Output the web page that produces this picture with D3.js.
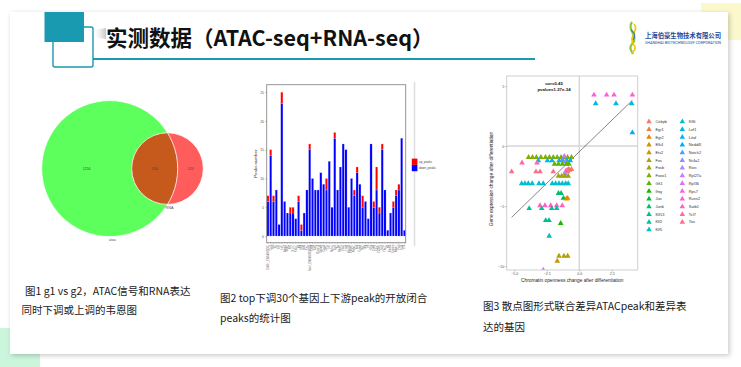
<!DOCTYPE html>
<html><head><meta charset="utf-8">
<script src="https://cdn.jsdelivr.net/npm/d3@7"></script>
<style>html,body{margin:0;padding:0;background:#fff;overflow:hidden}</style>
</head><body><svg id="c" width="741" height="367"></svg>
<script>
// ---------------- DATA ----------------
const titleText = "实测数据（ATAC-seq+RNA-seq）";
const logoCN = "上海伯豪生物技术有限公司";
const logoEN = "SHANGHAI BIOTECHNOLOGY CORPORATION";
const captions = [
  ["图1 g1 vs g2，ATAC信号和RNA表达", "同时下调或上调的韦恩图"],
  ["图2 top下调30个基因上下游peak的开放闭合", "peaks的统计图"],
  ["图3 散点图形式联合差异ATACpeak和差异表", "达的基因"]
];
// Venn
const vennSets = ["atac", "RNA"];
const vennCounts = [1254, 316, 120]; // atac only, both, RNA only
// Bar chart
const barGenes = ["Cd8b1_ENSMUSG01","Ccr7","Sell","Il7r","Tcf7","Lef1","Bach2","Satb1","Klf2","S1pr1","Foxp1","Id3","Myb","Bcl6","Ets1","Sox4_ENSMUSG0025","Cd28","Ikzf2","Dusp10","Slamf6","Cxcr5","Zeb1","Irf4","Nr4a1","Egr2","Tox","Pdcd1","Ctla4","Lag3","Havcr2","Entpd1","Prdm1","Batf","Gzmb","Prf1","Ifng","Tnf","Il2ra","Cd69","Klrg1","Cx3cr1","Zeb2","Tbx21","Id2","Runx3","Eomes","Nfatc1","Fasl","Ccl5","Il10"];
const downPeaks = [6,14,6,8,2,23,6,4,4,4,3,6,1,4,8,15,10,8,8,11,9,8,13,5,17,8,12,16,15,5,10,7,11,9,5,6,3,16,5,8,4,15,8,1,4,5,7,8,17,1];
const upPeaks   = [1,1,1,0,0,2,0,0,1,1,0,1,1,0,0,1,0,0,0,0,0,2,0,0,1,0,0,0,0,0,0,1,1,0,2,0,0,0,1,4,1,1,0,0,0,1,1,1,0,0];
const barYTicks = [0,5,10,15,20,25];
const barLegend = ["up_peaks", "down_peaks"];
// Scatter
const scatterGenes = ["Cebpb","Egr1","Egr2","Elk4","Ets2","Fos","Fosb","Foxo1","Gfi1","Ifng","Jun","Junb","Klf13","Klf2","Klf5","Klf6","Lef1","Litaf","Nedd4l","Notch2","Nr4a2","Rorc","Rpl27a","Rpl36","Rps7","Runx2","Satb1","Tcf7","Tox"];
const rowGene = ["Runx2","Lef1","Nedd4l","Foxo1","Rpl36","Litaf","Notch2","Nr4a2","Gfi1","Tcf7","Cebpb","Egr1","Rps7","Tox","Rorc","Fosb","Klf6","Junb","Jun","Elk4","Egr2","Satb1","Klf2","Klf13","Ifng","Klf5","Fos","Ets2","Rpl27a"];
const rowY = [4.25,3.53,1.11,-0.95,-0.85,-1.22,-1.15,-1.3,-1.5,-1.4,-1.95,-2.0,-2.05,-2.14,-2.3,-2.5,-3.13,-3.94,-4.35,-4.4,-4.35,-4.97,-5.2,-6.2,-6.44,-7.5,-9.17,-9.58,-10.33];
const rowXs = [
  [1.13,2.1,2.67,4.08],
  [1.26,2.82,4.03],
  [4.08],
  [-3.9,-3.6,-3.3,-2.95,-2.6,-2.3,-2.0,-1.7,-1.4,-1.15,-0.9,-0.6],
  [-1.15],
  [-3.15,-2.45,-2.1,-1.55,-1.25,-0.95,-0.7],
  [-1.3],
  [-1.05],
  [-1.9,-1.6,-1.3,-1.0,-0.8],
  [-4.4,-3.25],
  [-0.85,-0.6],
  [-0.75],
  [-1.0],
  [-5.2,-3.33,-3.02,-2.0,-1.05,-0.89],
  [-1.1],
  [-1.6,-1.35,-1.1,-0.85],
  [-4.43,-4.18,-3.92,-3.62,-3.1,-2.77,-2.08,-1.82,-1.56,-1.31,-1.05,-0.85],
  [-1.6,-1.4],
  [-1.22],
  [-1.0],
  [-0.9],
  [-3.02,-2.64,-2.2,-1.74,-1.31],
  [-3.85,-2.89,-2.12,-1.74],
  [-2.58,-2.33],
  [-1.43],
  [-2.31],
  [-1.56,-1.18,-0.89],
  [-1.69],
  [-2.77]
];
const fitLine = {slope: 1.05, intercept: -0.48};
const statText = ["cor=0.45", "pvalue=1.27e-34"];
const scXTicks = [-5, -2.5, 0, 2.5];
const scYTicks = [5, 0, -5, -10];
const scXLabel = "Chromatin openness change after differentiation";
const scYLabel = "Gene expression change after differentiation";

// ---------------- HELPERS ----------------
const TEAL = "#1a9ab0";
function hclLuv(h, c, l) {
  const hr = h * Math.PI / 180;
  const U = c * Math.cos(hr), V = c * Math.sin(hr);
  const Xn = 95.047, Yn = 100, Zn = 108.883;
  const Y = l > 7.999592 ? Yn * Math.pow((l + 16) / 116, 3) : Yn * l / 903.3;
  const t = Xn + 15 * Yn + 3 * Zn;
  const un = 4 * Xn / t, vn = 9 * Yn / t;
  const u = U / (13 * l) + un, v = V / (13 * l) + vn;
  const X = 9 * Y * u / (4 * v);
  const Z = Y * (12 - 3 * u - 20 * v) / (4 * v);
  const x = X / 100, y = Y / 100, z = Z / 100;
  const lin = [3.240479*x - 1.537150*y - 0.498535*z,
              -0.969256*x + 1.875992*y + 0.041556*z,
               0.055648*x - 0.204043*y + 1.057311*z];
  const g = lin.map(v => { v = v <= 0.0031308 ? 12.92 * v : 1.055 * Math.pow(v, 1/2.4) - 0.055; return Math.round(Math.max(0, Math.min(1, v)) * 255); });
  return d3.rgb(g[0], g[1], g[2]).formatHex();
}
const nG = scatterGenes.length;
const geneColor = d3.scaleOrdinal().domain(scatterGenes)
  .range(scatterGenes.map((g, i) => hclLuv(15 + 360 * i / nG, 100, 65)));

const svg = d3.select("#c");
const defs = svg.append("defs");
const f = defs.append("filter").attr("id", "sh").attr("x", -0.05).attr("y", -0.05).attr("width", 1.1).attr("height", 1.1);
f.append("feDropShadow").attr("dx", 1.5).attr("dy", 1.5).attr("stdDeviation", 2.5).attr("flood-color", "#000").attr("flood-opacity", 0.22);
const lg = defs.append("linearGradient").attr("id", "tsh").attr("x1", 0).attr("x2", 1).attr("y1", 0).attr("y2", 0);
lg.append("stop").attr("offset", 0).attr("stop-color", "#fff").attr("stop-opacity", 0);
lg.append("stop").attr("offset", 1).attr("stop-color", "#999").attr("stop-opacity", 0.55);

// ---------------- SLIDE ----------------
svg.append("rect").attr("x", 701).attr("y", 3).attr("width", 40).attr("height", 37).attr("fill", "#fbf9cc");
svg.append("rect").attr("x", 0).attr("y", 328).attr("width", 40).attr("height", 39).attr("fill", "#cbf6dc");
svg.append("rect").attr("x", 10).attr("y", 12).attr("width", 718).attr("height", 342).attr("fill", "#fff").attr("filter", "url(#sh)");

svg.append("rect").attr("x", 53).attr("y", 27).attr("width", 40).attr("height", 40).attr("rx", 2)
  .attr("fill", "#fff").attr("stroke", TEAL).attr("stroke-width", 1.4);
svg.append("rect").attr("x", 44.5).attr("y", 12).attr("width", 39.5).attr("height", 30).attr("fill", TEAL);
svg.append("path").attr("d", "M92,30 L106,28 L106,39 L94,37 Z").attr("fill", "url(#tsh)");
svg.append("line").attr("x1", 93).attr("x2", 535).attr("y1", 59).attr("y2", 59).attr("stroke", TEAL).attr("stroke-width", 2);
svg.append("text").attr("x", 106).attr("y", 46).text(titleText)
  .attr("font-family", "'Noto Sans CJK SC', sans-serif").attr("font-weight", 700).attr("font-size", 21.5).attr("fill", "#111");

// logo
const logo = svg.append("g");
logo.append("path").attr("d", "M632,22 C626,30 640,36 632,44 C628,48 632,52 633,54").attr("fill", "none").attr("stroke", "#8cc63f").attr("stroke-width", 2.2);
logo.append("path").attr("d", "M634,24 C640,30 627,37 634,45 C637,48 634,51 632,53").attr("fill", "none").attr("stroke", "#f2c400").attr("stroke-width", 1.6);
logo.append("path").attr("d", "M631,30 C635,33 636,36 633,40").attr("fill", "none").attr("stroke", "#2a7fc1").attr("stroke-width", 1.2);
logo.append("text").attr("x", 645).attr("y", 38).text(logoCN).attr("font-family", "'Noto Sans CJK SC', sans-serif")
  .attr("font-weight", 700).attr("font-size", 6.3).attr("fill", "#1f4796").attr("textLength", 76).attr("lengthAdjust", "spacingAndGlyphs");
logo.append("text").attr("x", 645).attr("y", 43.5).text(logoEN).attr("font-family", "Roboto, sans-serif")
  .attr("font-size", 3).attr("fill", "#1f4796").attr("textLength", 76).attr("lengthAdjust", "spacingAndGlyphs");

// captions
const capPos = [[[25, 294.5], [21.5, 313.5]], [[220, 301.5], [220, 322]], [[483, 310], [483, 330.5]]];
captions.forEach((lines, i) => lines.forEach((t, j) => {
  svg.append("text").attr("x", capPos[i][j][0]).attr("y", capPos[i][j][1]).text(t)
    .attr("font-family", "'Noto Sans CJK SC', sans-serif").attr("font-size", 10.5).attr("fill", "#1a1a1a");
}));

// ---------------- VENN ----------------
{
  const totals = [vennCounts[0] + vennCounts[1], vennCounts[1] + vennCounts[2]];
  const r = d3.scaleSqrt().domain([0, d3.max(totals)]).range([0, 68]);
  const cx1 = 109.7, cy = 168.6, dist = 57.8;
  const c = [{x: cx1, r: r(totals[0]), fill: "#5cff5c"}, {x: cx1 + dist, r: r(totals[1]), fill: "#ff5c5c"}];
  const g = svg.append("g");
  defs.append("clipPath").attr("id", "vclip").append("circle").attr("cx", c[0].x).attr("cy", cy).attr("r", c[0].r);
  g.selectAll("circle.f").data(c).join("circle").attr("cx", d => d.x).attr("cy", cy).attr("r", d => d.r).attr("fill", d => d.fill);
  g.append("circle").attr("cx", c[1].x).attr("cy", cy).attr("r", c[1].r).attr("fill", "#c55a1c").attr("clip-path", "url(#vclip)");
  g.selectAll("circle.s").data(c).join("circle").attr("cx", d => d.x).attr("cy", cy).attr("r", d => d.r)
    .attr("fill", "none").attr("stroke", "#fff").attr("stroke-width", 0.8);
  const lx = [(c[0].x - c[0].r + c[1].x - c[1].r) / 2, (c[1].x - c[1].r + c[0].x + c[0].r) / 2, (c[0].x + c[0].r + c[1].x + c[1].r) / 2];
  vennCounts.forEach((v, i) => g.append("text").attr("x", lx[i]).attr("y", cy + 1.2).attr("text-anchor", "middle")
    .text(v).attr("font-family", "Arial, sans-serif").attr("font-size", 3.5).attr("fill", "#444"));
  g.append("text").attr("x", c[0].x + 3).attr("y", cy + c[0].r + 4.5).attr("text-anchor", "middle").text(vennSets[0])
    .attr("font-family", "Arial, sans-serif").attr("font-size", 3.8).attr("fill", "#555");
  g.append("text").attr("x", c[1].x + 2).attr("y", cy + c[1].r + 4.2).attr("text-anchor", "middle").text(vennSets[1])
    .attr("font-family", "Arial, sans-serif").attr("font-size", 3.8).attr("fill", "#555");
}

// ---------------- BAR CHART ----------------
{
  const L = 266.7, R = 405.7, T = 84.7, B = 242.7;
  const x = d3.scaleBand().domain(barGenes).range([L, R]).paddingInner(0.22).paddingOuter(0.05);
  const y = d3.scaleLinear().domain([-1.16, 26.3]).range([B, T]);
  const g = svg.append("g");
  g.append("line").attr("x1", 414.5).attr("x2", 414.5).attr("y1", 82).attr("y2", 246).attr("stroke", "#ddd").attr("stroke-width", 1.5);
  g.append("rect").attr("x", L).attr("y", T).attr("width", R - L).attr("height", B - T).attr("fill", "#fff");
  const data = barGenes.map((k, i) => ({k, d: downPeaks[i], u: upPeaks[i]}));
  g.selectAll("rect.d").data(data).join("rect").attr("x", d => x(d.k)).attr("width", x.bandwidth())
    .attr("y", d => y(d.d)).attr("height", d => y(0) - y(d.d)).attr("fill", "#0000ff").attr("stroke", "#c9c9ff").attr("stroke-width", 0.25);
  g.selectAll("rect.u").data(data.filter(d => d.u > 0)).join("rect").attr("x", d => x(d.k)).attr("width", x.bandwidth())
    .attr("y", d => y(d.d + d.u)).attr("height", d => y(d.d) - y(d.d + d.u)).attr("fill", "#ff0000").attr("stroke", "#ffc9c9").attr("stroke-width", 0.25);
  g.append("rect").attr("x", L).attr("y", T).attr("width", R - L).attr("height", B - T).attr("fill", "none").attr("stroke", "#8a8a8a").attr("stroke-width", 0.9);
  const ya = g.append("g").attr("transform", `translate(${L},0)`).call(d3.axisLeft(y).tickValues(barYTicks).tickSize(1.5).tickPadding(1.2));
  ya.select(".domain").remove();
  ya.selectAll("line").attr("stroke", "#666").attr("stroke-width", 0.4);
  ya.selectAll("text").attr("font-size", 3.4).attr("fill", "#555").attr("font-family", "Arial, sans-serif");
  const xa = g.append("g").attr("transform", `translate(0,${B})`).call(d3.axisBottom(x).tickSize(1.2));
  xa.select(".domain").remove();
  xa.selectAll("line").attr("stroke", "#666").attr("stroke-width", 0.3);
  xa.selectAll("text").attr("font-size", 2.6).attr("fill", "#666").attr("font-family", "Arial, sans-serif")
    .attr("transform", "rotate(-90)").attr("text-anchor", "end").attr("x", -2).attr("y", 0).attr("dy", "0.35em");
  g.append("text").attr("transform", `translate(256.5,${(T + B) / 2}) rotate(-90)`).attr("text-anchor", "middle")
    .text("Peaks number").attr("font-size", 4.4).attr("fill", "#333").attr("font-family", "Arial, sans-serif");
  const legCol = ["#ff0000", "#0000ff"];
  barLegend.forEach((t, i) => {
    g.append("rect").attr("x", 411.8).attr("y", 158.6 + i * 6.3).attr("width", 5.6).attr("height", 6.3).attr("fill", legCol[i]);
    g.append("text").attr("x", 419).attr("y", 162.8 + i * 6.3).text(t).attr("font-size", 3).attr("fill", "#444").attr("font-family", "Arial, sans-serif");
  });
}

// ---------------- SCATTER ----------------
{
  const L = 506.7, R = 637.7, T = 76, B = 270;
  const x = d3.scaleLinear().domain([-5.58, 4.49]).range([L, R]);
  const y = d3.scaleLinear().domain([-10.33, 5.83]).range([B, T]);
  const g = svg.append("g");
  defs.append("clipPath").attr("id", "sclip").append("rect").attr("x", L).attr("y", T).attr("width", R - L).attr("height", B - T);
  g.append("line").attr("x1", x(0)).attr("x2", x(0)).attr("y1", T).attr("y2", B).attr("stroke", "#d6d6d6").attr("stroke-width", 1.4);
  g.append("line").attr("x1", L).attr("x2", R).attr("y1", y(0)).attr("y2", y(0)).attr("stroke", "#d6d6d6").attr("stroke-width", 1.4);
  const pts = [];
  rowGene.forEach((gn, i) => rowXs[i].forEach(v => pts.push({g: gn, x: v, y: rowY[i]})));
  const xe = d3.extent(pts, d => d.x);
  g.append("line").attr("x1", x(xe[0])).attr("x2", x(xe[1]))
    .attr("y1", y(fitLine.intercept + fitLine.slope * xe[0])).attr("y2", y(fitLine.intercept + fitLine.slope * xe[1]))
    .attr("stroke", "#333").attr("stroke-width", 0.6);
  const tri = d3.symbol().type(d3.symbolTriangle).size(14);
  g.append("g").attr("clip-path", "url(#sclip)").selectAll("path").data(pts).join("path")
    .attr("d", tri).attr("transform", d => `translate(${x(d.x)},${y(d.y)})`).attr("fill", d => geneColor(d.g));
  g.append("rect").attr("x", L).attr("y", T).attr("width", R - L).attr("height", B - T).attr("fill", "none").attr("stroke", "#cfcfcf").attr("stroke-width", 1);
  statText.forEach((t, i) => g.append("text").attr("x", 554).attr("y", 84.8 + i * 6).attr("text-anchor", "middle").text(t)
    .attr("font-size", 4.3).attr("font-weight", 700).attr("fill", "#111").attr("font-family", "Arial, sans-serif"));
  const xa = g.append("g").attr("transform", `translate(0,${B})`).call(d3.axisBottom(x).tickValues(scXTicks).tickFormat(d3.format(".1f")).tickSize(1.5).tickPadding(1));
  xa.select(".domain").remove();
  xa.selectAll("line").attr("stroke", "#666").attr("stroke-width", 0.4);
  xa.selectAll("text").attr("font-size", 3.6).attr("fill", "#555").attr("font-family", "Arial, sans-serif");
  const ya = g.append("g").attr("transform", `translate(${L},0)`).call(d3.axisLeft(y).tickValues(scYTicks).tickSize(1.5).tickPadding(1));
  ya.select(".domain").remove();
  ya.selectAll("line").attr("stroke", "#666").attr("stroke-width", 0.4);
  ya.selectAll("text").attr("font-size", 3.6).attr("fill", "#555").attr("font-family", "Arial, sans-serif");
  g.append("text").attr("x", (L + R) / 2).attr("y", 282).attr("text-anchor", "middle").text(scXLabel)
    .attr("font-size", 4.8).attr("fill", "#222").attr("font-family", "Arial, sans-serif");
  g.append("text").attr("transform", `translate(493,${(T + B) / 2 + 6}) rotate(-90)`).attr("text-anchor", "middle").text(scYLabel)
    .attr("font-size", 4.8).attr("fill", "#222").attr("font-family", "Arial, sans-serif");
  // legend
  const ltri = d3.symbol().type(d3.symbolTriangle).size(13);
  scatterGenes.forEach((gn, i) => {
    const col = Math.floor(i / 15), row = i % 15;
    const lx = 649 + col * 33.3, ly = 121.7 + row * 7.72;
    g.append("path").attr("d", ltri).attr("transform", `translate(${lx},${ly})`).attr("fill", geneColor(gn));
    g.append("text").attr("x", lx + 6.5).attr("y", ly + 1.4).text(gn).attr("font-size", 3.9).attr("fill", "#333").attr("font-family", "Arial, sans-serif");
  });
}
</script></body></html>
